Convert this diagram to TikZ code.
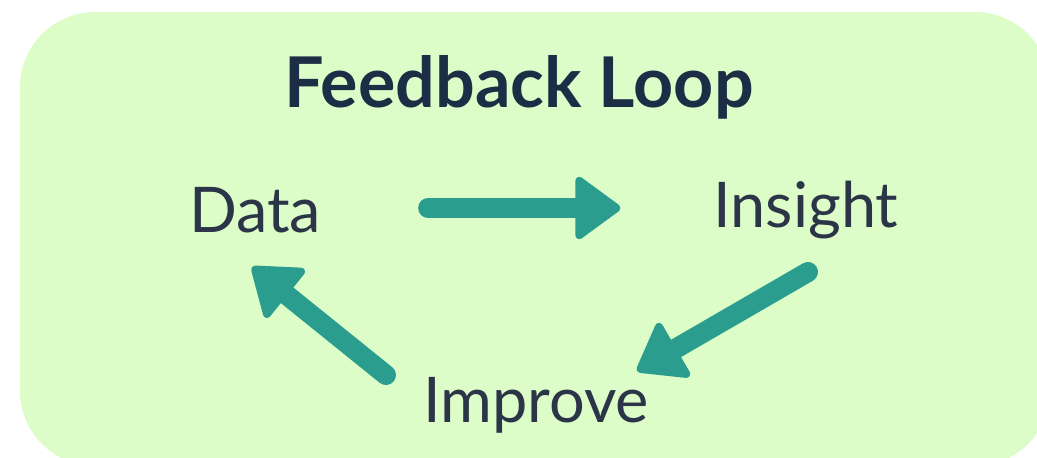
\documentclass[tikz,border=0pt]{standalone}
\usepackage{fontspec}
\setmainfont{Lato}
\usetikzlibrary{arrows.meta}
\definecolor{loopbg}{HTML}{DCFDC8}
\definecolor{flowteal}{HTML}{2A9D8F}
\definecolor{titlenavy}{HTML}{1B2E45}
\definecolor{labelink}{HTML}{2B3547}

\begin{document}
\begin{tikzpicture}[x=1pt,y=-1pt,
  word/.style={text=labelink, inner sep=0pt, anchor=base,
    font=\fontsize{63}{75}\selectfont},
  flow/.style={draw=flowteal, line width=20pt, line cap=round,
    -{Triangle[length=48pt,width=68pt,round,line width=8pt 0]}}]
  \useasboundingbox (0,0) rectangle (1037,458);
  \fill[loopbg, rounded corners=75pt] (20,12) rectangle (1050,466);
  \node[word, text=titlenavy, font=\bfseries\fontsize{70}{82}\selectfont]
    (title) at (519,107) {Feedback Loop};
  \node[word] (data) at (255,232) {Data};
  \node[word] (insight) at (806,227) {Insight};
  \node[word] (improve) at (536,422) {Improve};
  % the loop
  \draw[flow] ([xshift=107pt,yshift=24pt]data.base east)
    -- ([xshift=-93pt,yshift=19pt]insight.base west);
  \draw[flow] ([xshift=2pt,yshift=-45pt]insight.base)
    -- ([xshift=-12pt,yshift=51pt]improve.base east);
  \draw[flow] ([xshift=-37pt,yshift=47pt]improve.base west)
    -- ([xshift=-3pt,yshift=-35pt]data.base);
\end{tikzpicture}
\end{document}
